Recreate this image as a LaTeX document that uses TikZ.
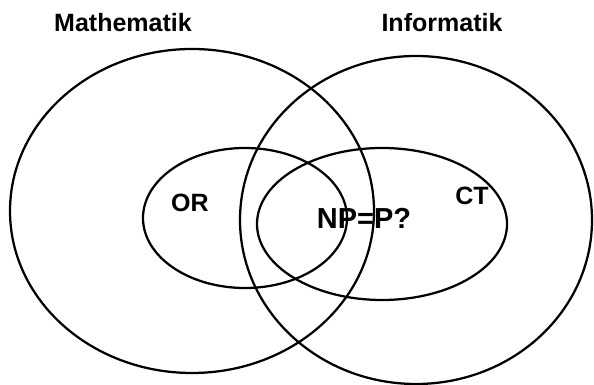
\documentclass[tikz,border=0pt]{standalone}
\usepackage{fontspec}
\setmainfont{Liberation Sans}
\usepackage{tikz}
\usetikzlibrary{positioning}

\begin{document}
\begin{tikzpicture}[
      set/.style={draw=black, line width=1.6pt},
      title/.style={font=\fontsize{17.8}{20}\selectfont\bfseries, inner sep=0pt},
      lbl/.style={font=\fontsize{17.8}{20}\selectfont\bfseries, inner sep=0pt},
      big/.style={font=\fontsize{20.6}{23}\selectfont\bfseries, inner sep=0pt}
  ]
  \useasboundingbox (0,0) rectangle (14.85,9.625);

  %% ---- the two fields
  \draw[set] (4.8,4.35)   ellipse [x radius=4.55, y radius=4.05];
  \draw[set] (10.4,4.125) ellipse [x radius=4.4,  y radius=4.1];

  %% ---- the two sub-areas
  \draw[set] (6.125,4.175) ellipse [x radius=2.55,  y radius=1.75];
  \draw[set] (9.55,4.025)  ellipse [x radius=3.125, y radius=1.9];

  %% ---- labels
  \node[title] (math) at (3.075,9.05) {Mathematik};
  \node[title] (info) at (11.05,9.05) {Informatik};
  \node[lbl]   (or)   at (4.75,4.55)  {OR};
  \node[lbl]   (ct)   at (11.8,4.725) {CT};
  \node[big]   (np)   at (9.1,4.175)  {NP=P?};
\end{tikzpicture}
\end{document}
